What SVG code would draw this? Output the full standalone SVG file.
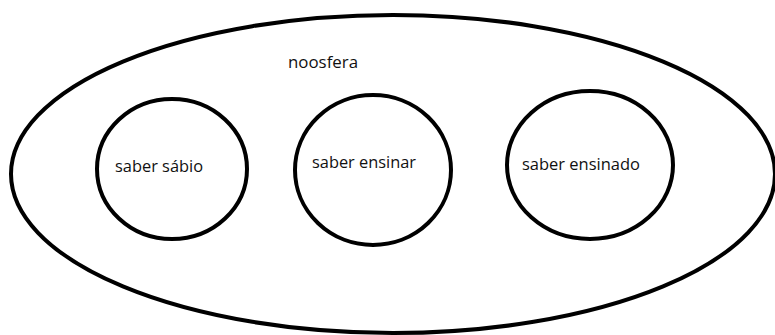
<svg xmlns="http://www.w3.org/2000/svg" width="775" height="335" viewBox="0 0 775 335">
  <style>
    .ring { fill: none; stroke: #000; stroke-width: 4; }
    .label { font-family: "Open Sans", "Liberation Sans", sans-serif; font-size: 16px; fill: #111; }
  </style>
  <rect width="775" height="335" fill="#fff"/>
  <g id="noosfera">
    <ellipse class="ring" cx="393" cy="174" rx="382" ry="159"/>
    <text class="label" x="288" y="68" textLength="70" lengthAdjust="spacingAndGlyphs">noosfera</text>
  </g>
  <g id="saber-sabio">
    <ellipse class="ring" cx="172" cy="169" rx="75" ry="70"/>
    <text class="label" x="115" y="172" textLength="88" lengthAdjust="spacingAndGlyphs">saber sábio</text>
  </g>
  <g id="saber-ensinar">
    <ellipse class="ring" cx="373" cy="170" rx="78" ry="75"/>
    <text class="label" x="312" y="168" textLength="104" lengthAdjust="spacingAndGlyphs">saber ensinar</text>
  </g>
  <g id="saber-ensinado">
    <ellipse class="ring" cx="590" cy="165" rx="83" ry="74"/>
    <text class="label" x="522" y="170" textLength="118" lengthAdjust="spacingAndGlyphs">saber ensinado</text>
  </g>
  <g id="connectors"/>
</svg>
